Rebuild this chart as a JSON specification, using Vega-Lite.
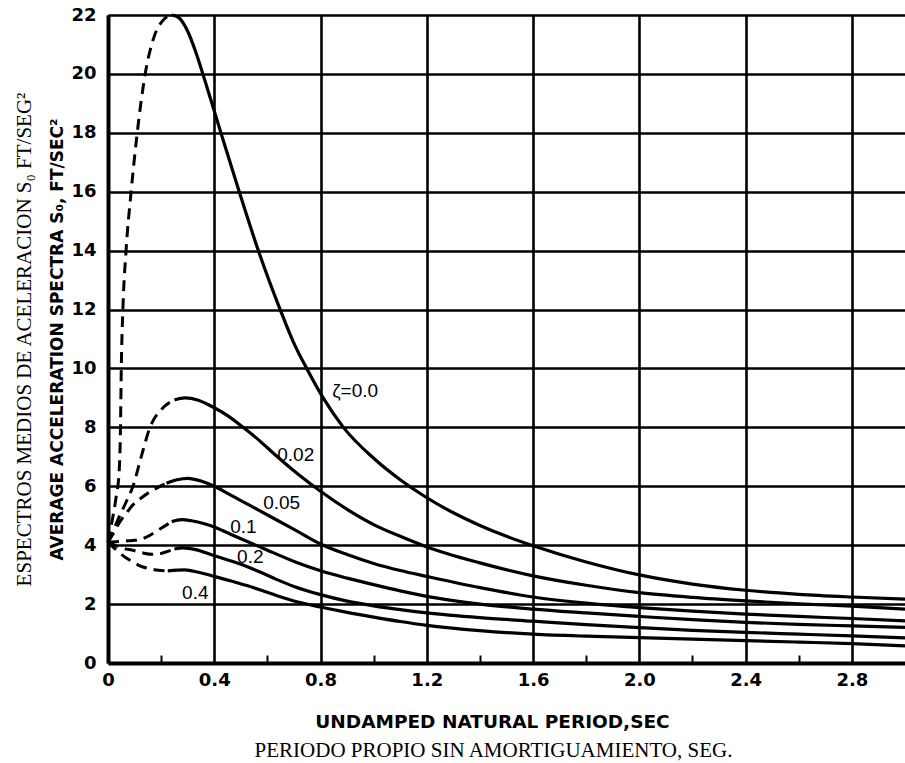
{
  "$schema": "https://vega.github.io/schema/vega-lite/v6.json",
  "width": 797,
  "height": 648,
  "autosize": {"type": "none"},
  "padding": {"left": 108, "top": 15, "right": 0, "bottom": 100},
  "background": "white",
  "config": {"view": {"stroke": null}, "font": "DejaVu Sans"},
  "datasets": {
    "curves": [
      {"zeta":"0.00","part":"d","period":0,"accel":4.1},
      {"zeta":"0.00","part":"d","period":0.015,"accel":4.8},
      {"zeta":"0.00","part":"d","period":0.03,"accel":5.6},
      {"zeta":"0.00","part":"d","period":0.042,"accel":6.5},
      {"zeta":"0.00","part":"d","period":0.047,"accel":8},
      {"zeta":"0.00","part":"d","period":0.05,"accel":10},
      {"zeta":"0.00","part":"d","period":0.056,"accel":12},
      {"zeta":"0.00","part":"d","period":0.068,"accel":14},
      {"zeta":"0.00","part":"d","period":0.087,"accel":16},
      {"zeta":"0.00","part":"d","period":0.11,"accel":18},
      {"zeta":"0.00","part":"d","period":0.14,"accel":20},
      {"zeta":"0.00","part":"d","period":0.175,"accel":21.3},
      {"zeta":"0.00","part":"d","period":0.21,"accel":21.85},
      {"zeta":"0.00","part":"d","period":0.24,"accel":22},
      {"zeta":"0.00","part":"s","period":0.24,"accel":22},
      {"zeta":"0.00","part":"s","period":0.265,"accel":21.92},
      {"zeta":"0.00","part":"s","period":0.3,"accel":21.45},
      {"zeta":"0.00","part":"s","period":0.33,"accel":20.75},
      {"zeta":"0.00","part":"s","period":0.357,"accel":20},
      {"zeta":"0.00","part":"s","period":0.425,"accel":18},
      {"zeta":"0.00","part":"s","period":0.494,"accel":16},
      {"zeta":"0.00","part":"s","period":0.566,"accel":14},
      {"zeta":"0.00","part":"s","period":0.648,"accel":12},
      {"zeta":"0.00","part":"s","period":0.7,"accel":10.85},
      {"zeta":"0.00","part":"s","period":0.748,"accel":10},
      {"zeta":"0.00","part":"s","period":0.81,"accel":9},
      {"zeta":"0.00","part":"s","period":0.886,"accel":8},
      {"zeta":"0.00","part":"s","period":1.0,"accel":6.95},
      {"zeta":"0.00","part":"s","period":1.1,"accel":6.22},
      {"zeta":"0.00","part":"s","period":1.2,"accel":5.61},
      {"zeta":"0.00","part":"s","period":1.3,"accel":5.1},
      {"zeta":"0.00","part":"s","period":1.4,"accel":4.67},
      {"zeta":"0.00","part":"s","period":1.5,"accel":4.3},
      {"zeta":"0.00","part":"s","period":1.6,"accel":3.98},
      {"zeta":"0.00","part":"s","period":1.8,"accel":3.43},
      {"zeta":"0.00","part":"s","period":2.0,"accel":2.99},
      {"zeta":"0.00","part":"s","period":2.2,"accel":2.68},
      {"zeta":"0.00","part":"s","period":2.4,"accel":2.47},
      {"zeta":"0.00","part":"s","period":2.6,"accel":2.33},
      {"zeta":"0.00","part":"s","period":2.8,"accel":2.24},
      {"zeta":"0.00","part":"s","period":3.0,"accel":2.17},

      {"zeta":"0.02","part":"d","period":0,"accel":4.1},
      {"zeta":"0.02","part":"d","period":0.02,"accel":4.5},
      {"zeta":"0.02","part":"d","period":0.044,"accel":5.0},
      {"zeta":"0.02","part":"d","period":0.07,"accel":5.5},
      {"zeta":"0.02","part":"d","period":0.094,"accel":6.0},
      {"zeta":"0.02","part":"d","period":0.125,"accel":7.0},
      {"zeta":"0.02","part":"d","period":0.158,"accel":8.0},
      {"zeta":"0.02","part":"d","period":0.2,"accel":8.6},
      {"zeta":"0.02","part":"d","period":0.25,"accel":8.93},
      {"zeta":"0.02","part":"s","period":0.25,"accel":8.93},
      {"zeta":"0.02","part":"s","period":0.29,"accel":9.0},
      {"zeta":"0.02","part":"s","period":0.34,"accel":8.92},
      {"zeta":"0.02","part":"s","period":0.393,"accel":8.7},
      {"zeta":"0.02","part":"s","period":0.45,"accel":8.4},
      {"zeta":"0.02","part":"s","period":0.505,"accel":8.03},
      {"zeta":"0.02","part":"s","period":0.57,"accel":7.55},
      {"zeta":"0.02","part":"s","period":0.629,"accel":7.07},
      {"zeta":"0.02","part":"s","period":0.717,"accel":6.4},
      {"zeta":"0.02","part":"s","period":0.8,"accel":5.83},
      {"zeta":"0.02","part":"s","period":0.903,"accel":5.2},
      {"zeta":"0.02","part":"s","period":1.0,"accel":4.7},
      {"zeta":"0.02","part":"s","period":1.1,"accel":4.3},
      {"zeta":"0.02","part":"s","period":1.2,"accel":3.94},
      {"zeta":"0.02","part":"s","period":1.4,"accel":3.4},
      {"zeta":"0.02","part":"s","period":1.6,"accel":2.96},
      {"zeta":"0.02","part":"s","period":1.8,"accel":2.64},
      {"zeta":"0.02","part":"s","period":2.0,"accel":2.39},
      {"zeta":"0.02","part":"s","period":2.2,"accel":2.23},
      {"zeta":"0.02","part":"s","period":2.4,"accel":2.11},
      {"zeta":"0.02","part":"s","period":2.6,"accel":2.01},
      {"zeta":"0.02","part":"s","period":2.8,"accel":1.93},
      {"zeta":"0.02","part":"s","period":3.0,"accel":1.83},

      {"zeta":"0.05","part":"d","period":0,"accel":4.1},
      {"zeta":"0.05","part":"d","period":0.02,"accel":4.4},
      {"zeta":"0.05","part":"d","period":0.045,"accel":4.8},
      {"zeta":"0.05","part":"d","period":0.07,"accel":5.1},
      {"zeta":"0.05","part":"d","period":0.093,"accel":5.36},
      {"zeta":"0.05","part":"d","period":0.125,"accel":5.6},
      {"zeta":"0.05","part":"d","period":0.156,"accel":5.8},
      {"zeta":"0.05","part":"d","period":0.19,"accel":5.97},
      {"zeta":"0.05","part":"d","period":0.22,"accel":6.1},
      {"zeta":"0.05","part":"s","period":0.22,"accel":6.1},
      {"zeta":"0.05","part":"s","period":0.26,"accel":6.22},
      {"zeta":"0.05","part":"s","period":0.3,"accel":6.27},
      {"zeta":"0.05","part":"s","period":0.35,"accel":6.18},
      {"zeta":"0.05","part":"s","period":0.4,"accel":6.0},
      {"zeta":"0.05","part":"s","period":0.45,"accel":5.76},
      {"zeta":"0.05","part":"s","period":0.505,"accel":5.49},
      {"zeta":"0.05","part":"s","period":0.565,"accel":5.2},
      {"zeta":"0.05","part":"s","period":0.63,"accel":4.88},
      {"zeta":"0.05","part":"s","period":0.717,"accel":4.45},
      {"zeta":"0.05","part":"s","period":0.8,"accel":4.04},
      {"zeta":"0.05","part":"s","period":0.9,"accel":3.68},
      {"zeta":"0.05","part":"s","period":1.0,"accel":3.38},
      {"zeta":"0.05","part":"s","period":1.1,"accel":3.14},
      {"zeta":"0.05","part":"s","period":1.2,"accel":2.94},
      {"zeta":"0.05","part":"s","period":1.4,"accel":2.56},
      {"zeta":"0.05","part":"s","period":1.6,"accel":2.24},
      {"zeta":"0.05","part":"s","period":1.8,"accel":2.03},
      {"zeta":"0.05","part":"s","period":2.0,"accel":1.88},
      {"zeta":"0.05","part":"s","period":2.2,"accel":1.76},
      {"zeta":"0.05","part":"s","period":2.4,"accel":1.66},
      {"zeta":"0.05","part":"s","period":2.6,"accel":1.58},
      {"zeta":"0.05","part":"s","period":2.8,"accel":1.51},
      {"zeta":"0.05","part":"s","period":3.0,"accel":1.43},

      {"zeta":"0.10","part":"d","period":0,"accel":4.1},
      {"zeta":"0.10","part":"d","period":0.03,"accel":4.12},
      {"zeta":"0.10","part":"d","period":0.06,"accel":4.14},
      {"zeta":"0.10","part":"d","period":0.093,"accel":4.16},
      {"zeta":"0.10","part":"d","period":0.117,"accel":4.18},
      {"zeta":"0.10","part":"d","period":0.15,"accel":4.3},
      {"zeta":"0.10","part":"d","period":0.178,"accel":4.45},
      {"zeta":"0.10","part":"d","period":0.21,"accel":4.63},
      {"zeta":"0.10","part":"d","period":0.24,"accel":4.8},
      {"zeta":"0.10","part":"s","period":0.24,"accel":4.8},
      {"zeta":"0.10","part":"s","period":0.277,"accel":4.87},
      {"zeta":"0.10","part":"s","period":0.32,"accel":4.82},
      {"zeta":"0.10","part":"s","period":0.363,"accel":4.73},
      {"zeta":"0.10","part":"s","period":0.4,"accel":4.62},
      {"zeta":"0.10","part":"s","period":0.45,"accel":4.42},
      {"zeta":"0.10","part":"s","period":0.5,"accel":4.22},
      {"zeta":"0.10","part":"s","period":0.585,"accel":3.89},
      {"zeta":"0.10","part":"s","period":0.708,"accel":3.42},
      {"zeta":"0.10","part":"s","period":0.8,"accel":3.13},
      {"zeta":"0.10","part":"s","period":0.9,"accel":2.88},
      {"zeta":"0.10","part":"s","period":1.0,"accel":2.66},
      {"zeta":"0.10","part":"s","period":1.1,"accel":2.45},
      {"zeta":"0.10","part":"s","period":1.2,"accel":2.26},
      {"zeta":"0.10","part":"s","period":1.4,"accel":2.0},
      {"zeta":"0.10","part":"s","period":1.6,"accel":1.83},
      {"zeta":"0.10","part":"s","period":1.8,"accel":1.7},
      {"zeta":"0.10","part":"s","period":2.0,"accel":1.58},
      {"zeta":"0.10","part":"s","period":2.2,"accel":1.47},
      {"zeta":"0.10","part":"s","period":2.4,"accel":1.38},
      {"zeta":"0.10","part":"s","period":2.6,"accel":1.31},
      {"zeta":"0.10","part":"s","period":2.8,"accel":1.26},
      {"zeta":"0.10","part":"s","period":3.0,"accel":1.21},

      {"zeta":"0.20","part":"d","period":0,"accel":4.1},
      {"zeta":"0.20","part":"d","period":0.03,"accel":3.98},
      {"zeta":"0.20","part":"d","period":0.06,"accel":3.88},
      {"zeta":"0.20","part":"d","period":0.092,"accel":3.83},
      {"zeta":"0.20","part":"d","period":0.13,"accel":3.74},
      {"zeta":"0.20","part":"d","period":0.166,"accel":3.69},
      {"zeta":"0.20","part":"d","period":0.2,"accel":3.72},
      {"zeta":"0.20","part":"d","period":0.228,"accel":3.8},
      {"zeta":"0.20","part":"d","period":0.25,"accel":3.87},
      {"zeta":"0.20","part":"s","period":0.25,"accel":3.87},
      {"zeta":"0.20","part":"s","period":0.283,"accel":3.91},
      {"zeta":"0.20","part":"s","period":0.33,"accel":3.85},
      {"zeta":"0.20","part":"s","period":0.4,"accel":3.64},
      {"zeta":"0.20","part":"s","period":0.45,"accel":3.5},
      {"zeta":"0.20","part":"s","period":0.51,"accel":3.32},
      {"zeta":"0.20","part":"s","period":0.57,"accel":3.1},
      {"zeta":"0.20","part":"s","period":0.634,"accel":2.84},
      {"zeta":"0.20","part":"s","period":0.7,"accel":2.6},
      {"zeta":"0.20","part":"s","period":0.8,"accel":2.32},
      {"zeta":"0.20","part":"s","period":0.9,"accel":2.1},
      {"zeta":"0.20","part":"s","period":1.0,"accel":1.94},
      {"zeta":"0.20","part":"s","period":1.1,"accel":1.81},
      {"zeta":"0.20","part":"s","period":1.2,"accel":1.7},
      {"zeta":"0.20","part":"s","period":1.4,"accel":1.54},
      {"zeta":"0.20","part":"s","period":1.6,"accel":1.42},
      {"zeta":"0.20","part":"s","period":1.8,"accel":1.3},
      {"zeta":"0.20","part":"s","period":2.0,"accel":1.2},
      {"zeta":"0.20","part":"s","period":2.2,"accel":1.11},
      {"zeta":"0.20","part":"s","period":2.4,"accel":1.04},
      {"zeta":"0.20","part":"s","period":2.6,"accel":0.98},
      {"zeta":"0.20","part":"s","period":2.8,"accel":0.92},
      {"zeta":"0.20","part":"s","period":3.0,"accel":0.85},

      {"zeta":"0.40","part":"d","period":0,"accel":4.1},
      {"zeta":"0.40","part":"d","period":0.03,"accel":3.85},
      {"zeta":"0.40","part":"d","period":0.06,"accel":3.62},
      {"zeta":"0.40","part":"d","period":0.092,"accel":3.44},
      {"zeta":"0.40","part":"d","period":0.12,"accel":3.3},
      {"zeta":"0.40","part":"d","period":0.154,"accel":3.21},
      {"zeta":"0.40","part":"d","period":0.19,"accel":3.15},
      {"zeta":"0.40","part":"d","period":0.225,"accel":3.13},
      {"zeta":"0.40","part":"s","period":0.225,"accel":3.13},
      {"zeta":"0.40","part":"s","period":0.26,"accel":3.15},
      {"zeta":"0.40","part":"s","period":0.289,"accel":3.16},
      {"zeta":"0.40","part":"s","period":0.34,"accel":3.08},
      {"zeta":"0.40","part":"s","period":0.4,"accel":2.94},
      {"zeta":"0.40","part":"s","period":0.46,"accel":2.79},
      {"zeta":"0.40","part":"s","period":0.523,"accel":2.63},
      {"zeta":"0.40","part":"s","period":0.58,"accel":2.46},
      {"zeta":"0.40","part":"s","period":0.634,"accel":2.29},
      {"zeta":"0.40","part":"s","period":0.69,"accel":2.13},
      {"zeta":"0.40","part":"s","period":0.8,"accel":1.9},
      {"zeta":"0.40","part":"s","period":0.9,"accel":1.72},
      {"zeta":"0.40","part":"s","period":1.0,"accel":1.56},
      {"zeta":"0.40","part":"s","period":1.1,"accel":1.41},
      {"zeta":"0.40","part":"s","period":1.2,"accel":1.28},
      {"zeta":"0.40","part":"s","period":1.4,"accel":1.1},
      {"zeta":"0.40","part":"s","period":1.6,"accel":0.98},
      {"zeta":"0.40","part":"s","period":1.8,"accel":0.91},
      {"zeta":"0.40","part":"s","period":2.0,"accel":0.86},
      {"zeta":"0.40","part":"s","period":2.2,"accel":0.81},
      {"zeta":"0.40","part":"s","period":2.4,"accel":0.76},
      {"zeta":"0.40","part":"s","period":2.6,"accel":0.71},
      {"zeta":"0.40","part":"s","period":2.8,"accel":0.66},
      {"zeta":"0.40","part":"s","period":3.0,"accel":0.58}
    ],
    "labels": [
      {"label":"ζ=0.0","period":0.844,"accel":9.24},
      {"label":"0.02","period":0.637,"accel":7.06},
      {"label":"0.05","period":0.584,"accel":5.43},
      {"label":"0.1","period":0.46,"accel":4.62},
      {"label":"0.2","period":0.486,"accel":3.6},
      {"label":"0.4","period":0.279,"accel":2.38}
    ]
  },
  "layer": [
    {
      "data": {"name": "curves"},
      "transform": [{"filter": "datum.part === 's'"}],
      "mark": {"type": "line", "interpolate": "monotone", "stroke": "black", "strokeWidth": 3.2},
      "encoding": {
        "x": {
          "field": "period", "type": "quantitative",
          "scale": {"domain": [0, 3.0], "nice": false, "zero": false},
          "axis": {
            "orient": "bottom",
            "values": [0, 0.4, 0.8, 1.2, 1.6, 2.0, 2.4, 2.8],
            "labelExpr": "datum.value === 0 ? '0' : format(datum.value, '.1f')",
            "labelFlush": false, "labelOverlap": false,
            "labelFont": "DejaVu Sans", "labelFontWeight": "bold", "labelFontSize": 18, "labelColor": "black",
            "labelPadding": 8,
            "ticks": false,
            "domain": true, "domainColor": "black", "domainWidth": 4,
            "grid": true, "gridColor": "black", "gridWidth": 2.6, "gridOpacity": 1,
            "title": "UNDAMPED  NATURAL  PERIOD,SEC",
            "titleFont": "DejaVu Sans", "titleFontWeight": "bold", "titleFontSize": 18.5, "titleColor": "black",
            "titlePadding": 23, "titleX": 384
          }
        },
        "y": {
          "field": "accel", "type": "quantitative",
          "scale": {"domain": [0, 22], "nice": false, "zero": false},
          "axis": {
            "orient": "left",
            "values": [0, 2, 4, 6, 8, 10, 12, 14, 16, 18, 20, 22],
            "labelFont": "DejaVu Sans", "labelFontWeight": "bold", "labelFontSize": 18, "labelColor": "black",
            "labelPadding": 12, "labelOverlap": false, "labelFlush": false,
            "ticks": false,
            "domain": true, "domainColor": "black", "domainWidth": 4,
            "grid": true, "gridColor": "black", "gridWidth": 2.6, "gridOpacity": 1,
            "title": "AVERAGE ACCELERATION SPECTRA S₀, FT/SEC²",
            "titleFont": "DejaVu Sans", "titleFontWeight": "bold", "titleFontSize": 17, "titleColor": "black",
            "titlePadding": 4
          }
        },
        "detail": {"field": "zeta"}
      }
    },
    {
      "data": {"name": "curves"},
      "transform": [{"filter": "datum.part === 'd'"}],
      "mark": {"type": "line", "interpolate": "monotone", "stroke": "black", "strokeWidth": 3, "strokeDash": [11, 7]},
      "encoding": {
        "x": {
          "field": "period", "type": "quantitative",
          "scale": {"domain": [0, 3.0], "nice": false, "zero": false},
          "axis": {
            "orient": "bottom",
            "values": [0.2, 0.6, 1.0, 1.4, 1.8, 2.2, 2.6],
            "labels": false, "domain": false, "grid": false,
            "ticks": true, "tickSize": -8, "tickWidth": 2, "tickColor": "black",
            "title": "PERIODO PROPIO SIN AMORTIGUAMIENTO, SEG.",
            "titleFont": "Liberation Serif", "titleFontWeight": "normal", "titleFontSize": 21, "titleColor": "black",
            "titlePadding": 75, "titleX": 385
          }
        },
        "y": {
          "field": "accel", "type": "quantitative",
          "scale": {"domain": [0, 22], "nice": false, "zero": false},
          "axis": {
            "orient": "left",
            "labels": false, "ticks": false, "domain": false, "grid": false,
            "title": "ESPECTROS MEDIOS DE ACELERACION S₀ FT/SEG²",
            "titleFont": "Liberation Serif", "titleFontWeight": "normal", "titleFontSize": 21, "titleColor": "black",
            "titlePadding": 74
          }
        },
        "detail": {"field": "zeta"}
      }
    },
    {
      "data": {"name": "labels"},
      "mark": {"type": "text", "align": "left", "baseline": "middle", "font": "Liberation Sans", "fontSize": 19, "color": "black"},
      "encoding": {
        "x": {"field": "period", "type": "quantitative", "axis": null},
        "y": {"field": "accel", "type": "quantitative", "axis": null},
        "text": {"field": "label"}
      }
    }
  ],
  "resolve": {"axis": {"x": "independent", "y": "independent"}}
}
